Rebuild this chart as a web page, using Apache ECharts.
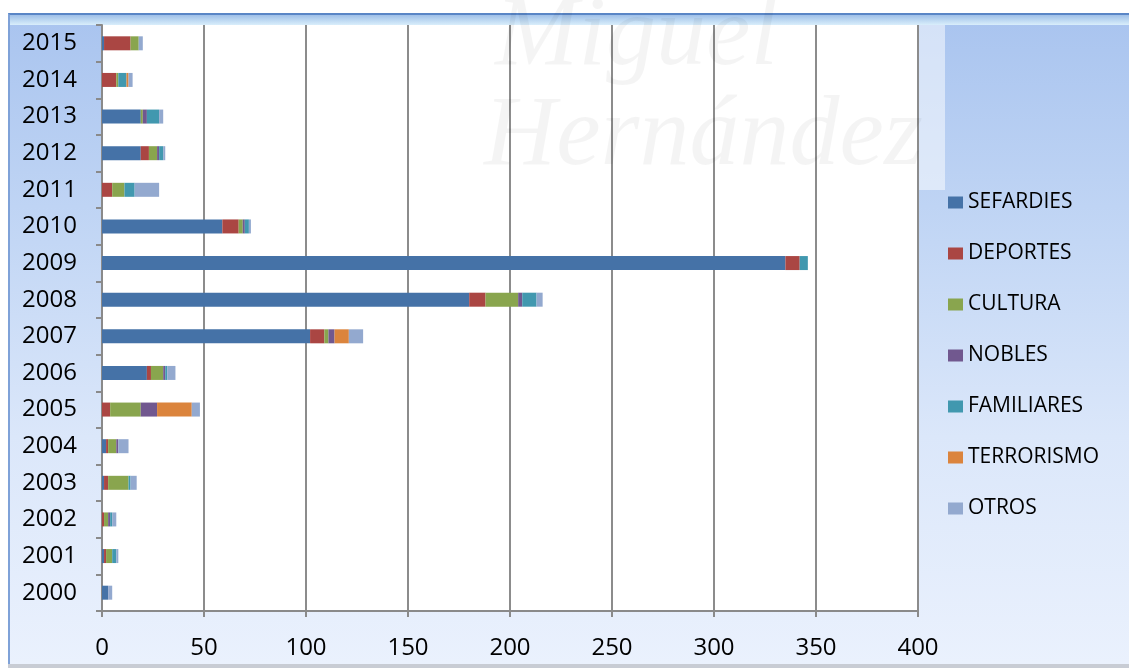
<!DOCTYPE html>
<html>
<head>
<meta charset="utf-8">
<script src="https://cdn.jsdelivr.net/npm/echarts@6/dist/echarts.min.js"></script>
<style>
  html, body { margin: 0; padding: 0; width: 1129px; height: 668px; background: #ffffff; overflow: hidden; }
  #frame {
    position: absolute; left: 8px; top: 13px; width: 1121px; height: 651px;
    border-top: 2px solid #5a86c6; border-left: 2px solid #7fa2d8;
    background: linear-gradient(to bottom, #a9c4ef 0%, #c3d7f5 35%, #dbe7fa 65%, #eaf1fd 100%);
    box-sizing: border-box;
  }
  #bevel {
    position: absolute; left: 10px; top: 15px; width: 1119px; height: 10px;
    background: linear-gradient(to bottom, #9fc0e8 0%, #d9eefb 100%);
  }
  #shadow { position: absolute; left: 8px; top: 664px; width: 1121px; height: 4px; background: #c8ccd4; }
  #wash { position: absolute; left: 918px; top: 25px; width: 27px; height: 165px; background: rgba(255,255,255,0.5); }
  #chart { position: absolute; left: 0; top: 0; width: 1129px; height: 668px; }
</style>
</head>
<body>
<div id="frame"></div>
<div id="bevel"></div>
<div id="shadow"></div>
<div id="wash"></div>
<div id="chart"></div>
<script>
const years = ['2000','2001','2002','2003','2004','2005','2006','2007','2008','2009','2010','2011','2012','2013','2014','2015'];
const seriesNames = ['SEFARDIES','DEPORTES','CULTURA','NOBLES','FAMILIARES','TERRORISMO','OTROS'];
const sefardies  = [3, 1, 0, 1, 2, 0, 22, 102, 180, 335, 59, 0, 19, 19, 0, 1];
const deportes   = [0, 1, 1, 2, 1, 4, 2, 7, 8, 7, 8, 5, 4, 0, 7, 13];
const cultura    = [0, 3, 2, 10, 4, 15, 6, 2, 16, 0, 2, 6, 4, 1, 1, 4];
const nobles     = [0, 0, 1, 0, 1, 8, 1, 3, 2, 0, 1, 0, 1, 2, 0, 0];
const familiares = [0, 2, 1, 1, 0, 0, 1, 0, 7, 4, 2, 5, 2, 6, 4, 0];
const terrorismo = [0, 0, 0, 0, 0, 17, 0, 7, 0, 0, 0, 0, 0, 0, 1, 0];
const otros      = [2, 1, 2, 3, 5, 4, 4, 7, 3, 0, 1, 12, 1, 2, 2, 2];
const xTicks = [0, 50, 100, 150, 200, 250, 300, 350, 400];

const allValues = [sefardies, deportes, cultura, nobles, familiares, terrorismo, otros];
const colors = ['#4572A7','#AA4643','#89A54E','#71588F','#4198AF','#DB843D','#93A9CF'];
const FONT = "'Open Sans', 'DejaVu Sans', sans-serif";

const chart = echarts.init(document.getElementById('chart'), null, { renderer: 'canvas' });
chart.setOption({
  animation: false,
  backgroundColor: 'transparent',
  color: colors,
  graphic: [
    { type: 'text', left: 495, top: -12, z: 1, silent: true,
      style: { text: 'Miguel', font: 'italic 100px "Liberation Serif", serif', fill: 'rgba(0,0,0,0.045)' } },
    { type: 'text', left: 484, top: 88, z: 1, silent: true,
      style: { text: 'Hernández', font: 'italic 100px "Liberation Serif", serif', fill: 'rgba(0,0,0,0.045)' } }
  ],
  grid: {
    left: 102, right: 211, top: 25, bottom: 57,
    show: true, backgroundColor: '#ffffff', borderWidth: 0
  },
  legend: {
    orient: 'vertical', left: 948, top: 192, padding: 0,
    itemWidth: 15, itemHeight: 12, itemGap: 30, icon: 'rect',
    data: seriesNames,
    textStyle: { fontFamily: FONT, fontSize: 21, color: '#000', lineHeight: 21 }
  },
  xAxis: {
    type: 'value', min: xTicks[0], max: xTicks[xTicks.length - 1], interval: 50,
    axisLine: { show: true, lineStyle: { color: '#8a8a8a', width: 2 } },
    axisTick: { show: true, length: 6, lineStyle: { color: '#8a8a8a', width: 2 } },
    splitLine: { show: true, lineStyle: { color: '#8c8c8c', width: 2 } },
    axisLabel: { fontFamily: FONT, fontSize: 24, color: '#000', margin: 25 }
  },
  yAxis: {
    type: 'category', data: years,
    axisLine: { show: true, lineStyle: { color: '#8a8a8a', width: 2 } },
    axisTick: { show: true, length: 6, lineStyle: { color: '#8a8a8a', width: 2 } },
    axisLabel: { fontFamily: FONT, fontSize: 24, color: '#000', margin: 25 }
  },
  series: seriesNames.map((name, i) => ({
    name: name, type: 'bar', stack: 'total', barWidth: 14,
    data: allValues[i],
    itemStyle: { color: colors[i] }
  }))
});
</script>
</body>
</html>
